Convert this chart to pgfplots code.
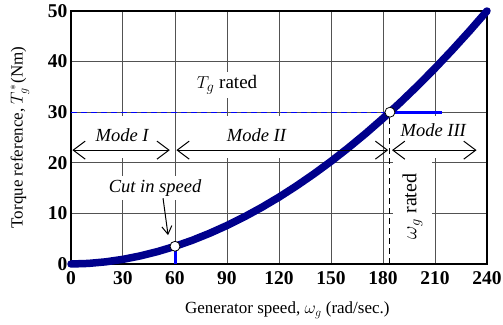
\documentclass[border=0pt]{standalone}
\usepackage{pgfplots}
\pgfplotsset{compat=1.18}
\usepackage{fontspec}
\setmainfont{Liberation Serif}
\usetikzlibrary{arrows.meta,calc}
\definecolor{navy}{RGB}{0,0,140}
\definecolor{bblue}{RGB}{0,0,255}
\begin{document}
\begin{tikzpicture}
\begin{axis}[name=ax, width=416pt, height=253pt, scale only axis,
 xmin=0,xmax=240,ymin=0,ymax=50,
 xtick={0,30,...,240}, ytick={0,10,...,50},
 grid=major, major grid style={black!68, line width=1pt},
 axis line style={line width=1.1pt},
 tick style={draw=none},
 ticklabel style={font=\fontsize{19.5}{22}\selectfont\bfseries},
 x tick label style={yshift=-4pt},
 /pgf/number format/assume math mode=true,
 xlabel={Generator speed, $\omega_g$ (rad/sec.)},
 ylabel={Torque reference, $T_g^{\,*}$(Nm)},
 label style={font=\fontsize{17}{20}\selectfont},
 xlabel style={at={(axis description cs:0.52,-0.182)},anchor=center},
 ylabel style={at={(axis description cs:-0.123,0.5)},anchor=center},
 clip=false,
]
% white label backgrounds
\fill[white] (axis cs:1,21) rectangle (axis cs:57,29.3);
\fill[white] (axis cs:62,21) rectangle (axis cs:145,29.3);
\fill[white] (axis cs:186,21) rectangle (axis cs:236,29.3);
\fill[white] (axis cs:185.6,0.4) rectangle (axis cs:208,20.5);
\node[fill=white, inner sep=4pt, font=\fontsize{19}{21}\selectfont] at (axis cs:90,35.4) {$T_g$ rated};
\node[fill=white, inner sep=4pt, font=\fontsize{18.5}{20}\selectfont\itshape] at (axis cs:48.5,15.0) {Cut in speed};
\node[font=\fontsize{18.5}{21}\selectfont\itshape] at (axis cs:29.5,25.5) {Mode I};
\node[font=\fontsize{18.5}{21}\selectfont\itshape] at (axis cs:107,25.5) {Mode II};
\node[font=\fontsize{18.5}{21}\selectfont\itshape] at (axis cs:209,26.5) {Mode III};
\node[rotate=90, font=\fontsize{20}{22}\selectfont] at (axis cs:197,11.4) {$\omega_g$ rated};
% lines
\addplot[bblue, line width=1.3pt, dash pattern=on 6pt off 4pt] coordinates {(0,30) (184,30)};
\addplot[black, line width=1pt, dash pattern=on 6pt off 4pt] coordinates {(184,0) (184,30)};
\addplot[bblue, line width=3pt] coordinates {(186,30) (214,30)};
\addplot[bblue, line width=3pt] coordinates {(60,0) (60,3.2)};
\addplot[navy, line width=7.5pt, line cap=round, line join=round] coordinates {
(0,0) (10,0.112) (20,0.424) (30,0.922) (40,1.603) (50,2.46) (60,3.49) (70,4.69)
(80,6.07) (90,7.61) (100,9.31) (110,11.18) (120,13.21) (130,15.41) (140,17.77)
(150,20.28) (160,22.96) (170,25.79) (180,28.78) (190,31.93) (200,35.23)
(210,38.69) (220,42.31) (230,46.08) (240,50)};
% mode arrows
\draw[{Straight Barb[length=12pt,width=18pt]}-{Straight Barb[length=12pt,width=18pt]}, line width=1pt] (axis cs:0.8,22.5) -- (axis cs:57,22.5);
\draw[{Straight Barb[length=12pt,width=18pt]}-{Straight Barb[length=12pt,width=18pt]}, line width=1pt] (axis cs:60.8,22.5) -- (axis cs:183,22.5);
\draw[{Straight Barb[length=12pt,width=18pt]}-{Straight Barb[length=12pt,width=18pt]}, line width=1pt] (axis cs:185.2,22.5) -- (axis cs:234,22.5);
\draw[-{Straight Barb[length=8pt,width=10pt]}, line width=1pt] (axis cs:53.1,13.0) -- (axis cs:56,5.7);
\addplot[only marks, mark=*, mark size=5pt, mark options={fill=white, draw=black, line width=0.8pt}] coordinates {(60,3.5) (184,30)};
\end{axis}
\pgfresetboundingbox
\path ($(ax.south west)+(-71pt,-61pt)$) rectangle ($(ax.north east)+(16pt,11pt)$);
\end{tikzpicture}
\end{document}
